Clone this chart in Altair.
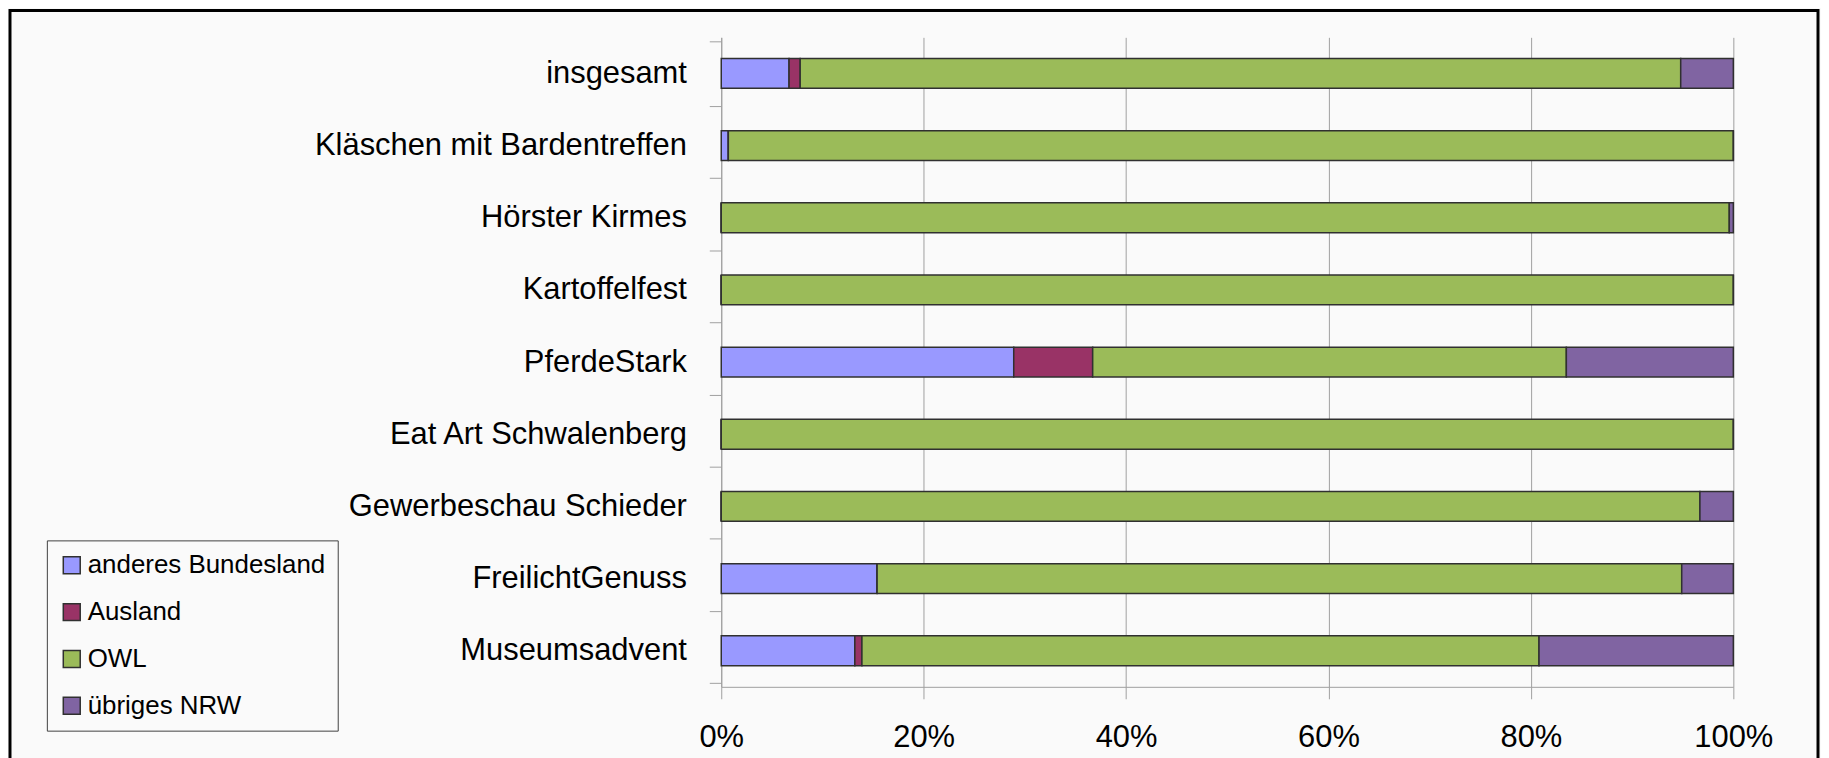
import altair as alt
import pandas as pd

categories = ["insgesamt", "Kläschen mit Bardentreffen", "Hörster Kirmes", "Kartoffelfest",
              "PferdeStark", "Eat Art Schwalenberg", "Gewerbeschau Schieder",
              "FreilichtGenuss", "Museumsadvent"]
series = ["anderes Bundesland", "Ausland", "OWL", "übriges NRW"]
anderes_bundesland = [6.7, 0.7, 0.0, 0.0, 28.9, 0.0, 0.0, 15.4, 13.2]
ausland = [1.1, 0.0, 0.0, 0.0, 7.8, 0.0, 0.0, 0.0, 0.7]
owl = [87.0, 99.3, 99.6, 100.0, 46.8, 100.0, 96.7, 79.5, 66.9]
uebriges_nrw = [5.2, 0.0, 0.4, 0.0, 16.5, 0.0, 3.3, 5.1, 19.2]
colors = ["#9999FF", "#993366", "#9BBB59", "#8064A2"]
tick_values = [0, 0.2, 0.4, 0.6, 0.8, 1.0]

rows = []
for s_i, (name, vals) in enumerate(zip(series, [anderes_bundesland, ausland, owl, uebriges_nrw])):
    for cat, v in zip(categories, vals):
        rows.append({"cat": cat, "series": name, "value": v, "ord": s_i})
df = pd.DataFrame(rows)

label_font = "Liberation Sans"

bars = alt.Chart(df).mark_bar(size=30, stroke="#303030", strokeWidth=1.5).encode(
    x=alt.X("value:Q", stack="normalize", title=None,
            scale=alt.Scale(domain=[0, 1]),
            axis=alt.Axis(values=tick_values, format=".0%", grid=True, gridColor="#A0A0A0",
                          gridWidth=1, tickSize=12, tickColor="#A0A0A0", domainColor="#A0A0A0",
                          labelFontSize=31, labelFont=label_font, labelColor="#000000",
                          labelPadding=24, labelFlush=False, labelLimit=0)),
    y=alt.Y("cat:N", sort=categories, title=None,
            axis=alt.Axis(tickBand="extent", tickSize=12, tickColor="#A0A0A0", domainColor="#A0A0A0",
                          labelFontSize=31, labelFont=label_font, labelColor="#000000",
                          labelPadding=23, grid=False, labelLimit=0)),
    color=alt.Color("series:N", scale=alt.Scale(domain=series, range=colors), title=None,
                    legend=alt.Legend(orient="none", legendX=-677, legendY=505,
                                      symbolType="square", symbolSize=289,
                                      symbolStrokeColor="#303030", symbolStrokeWidth=1.5,
                                      labelFontSize=26, labelFont=label_font, labelLimit=0,
                                      labelColor="#000000", rowPadding=21, labelOffset=3,
                                      padding=12, symbolOffset=0,
                                      strokeColor="#404040", fillColor="#FAFAFA")),
    order=alt.Order("ord:Q"),
)

frame = alt.Chart(pd.DataFrame({"a": [0]})).mark_rect(
    fill="transparent", stroke="#000000", strokeWidth=3
).encode(
    x=alt.value(-714), x2=alt.value(1101), y=alt.value(-27), y2=alt.value(760)
)

chart = alt.layer(bars, frame).properties(
    width=1016, height=652,
    autosize=alt.AutoSizeParams(type="none"),
    padding={"left": 716, "top": 28, "right": 88, "bottom": 70},
    background="#FAFAFA",
).configure_view(stroke=None)

chart.save("out.html", embed_options={"renderer": "svg", "actions": False})
